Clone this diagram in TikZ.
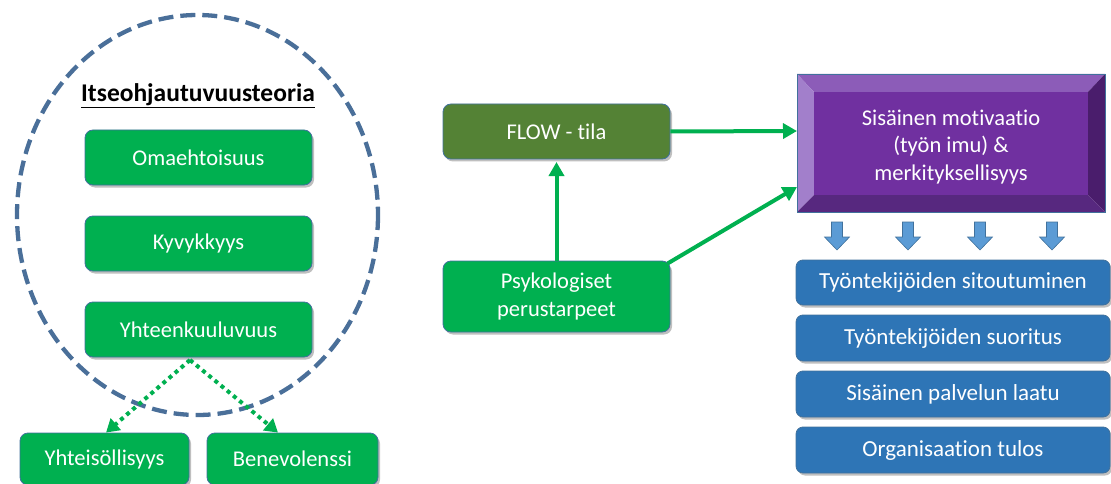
\documentclass[tikz,border=0pt]{standalone}
\usepackage{fontspec}
\setmainfont{Carlito}[Ligatures=NoCommon]
\usetikzlibrary{arrows.meta,shadows,calc}
\definecolor{gbox}{HTML}{00B050}
\definecolor{olive}{HTML}{548235}
\definecolor{bbox}{HTML}{2E75B6}
\definecolor{edge}{HTML}{41719C}
\definecolor{ring}{HTML}{4A6F99}
\definecolor{pface}{HTML}{7030A0}
\definecolor{ptop}{HTML}{8C5CB8}
\definecolor{pleft}{HTML}{A27FCB}
\definecolor{pright}{HTML}{4A1D6C}
\definecolor{pbottom}{HTML}{57287F}
\definecolor{barrow}{HTML}{5B9BD5}
\tikzset{
  card/.style={rectangle, rounded corners=8pt, draw=edge, line width=0.8pt,
    text=white, font=\fontsize{22.5}{27.5}\selectfont, align=center,
    drop shadow={shadow xshift=2pt, shadow yshift=-2.5pt, opacity=0.25, fill=black}},
  greencard/.style={card, fill=gbox},
  olivecard/.style={card, fill=olive},
  bluecard/.style={card, fill=bbox, rounded corners=7pt, font=\fontsize{23}{27.5}\selectfont},
  flowline/.style={draw=gbox, line width=4pt, -{Triangle[length=14pt,width=15pt]}},
  dotline/.style={draw=gbox, line width=4pt, dash pattern=on 4pt off 4pt,
    -{Triangle[length=13pt,width=15pt]}},
}
\newcommand{\downblock}[2]{% x, y of top of shaft
  \filldraw[fill=barrow, draw=edge, line width=0.6pt]
    (#1-5.5,#2) -- (#1+5.5,#2) -- (#1+5.5,#2+15) -- (#1+12.5,#2+15)
    -- (#1,#2+28) -- (#1-12.5,#2+15) -- (#1-5.5,#2+15) -- cycle;}
\begin{document}
\begin{tikzpicture}[x=1pt, y=-1pt]
\useasboundingbox (0,0) rectangle (1111,484);

% dashed ring around the theory
\draw[ring, line width=4.3pt, dash pattern=on 15pt off 7pt] (197.5,215) ellipse [x radius=180.5, y radius=200];

\node[font=\fontsize{25.5}{30}\selectfont\bfseries] (title) at (198,96) {\underline{Itseohjautuvuusteoria}};

\node[greencard, minimum width=227pt, minimum height=55pt] (oma) at (198.5,157.5) {Omaehtoisuus};
\node[greencard, minimum width=227pt, minimum height=55pt] (kyv) at (198.5,243.5) {Kyvykkyys};
\node[greencard, minimum width=227pt, minimum height=55pt] (yht) at (198.5,329.5) {Yhteenkuuluvuus};

\node[greencard, minimum width=169pt, minimum height=52pt] (yhteis) at (104.5,459) {Yhteisöllisyys};
\node[greencard, minimum width=171pt, minimum height=52pt] (bene) at (292.5,459) {Benevolenssi};

\coordinate (split) at (190,360);
\draw[dotline] (split) -- (yhteis.north -| 106,0);
\draw[dotline] (split) -- (bene.north -| 278,0);

% middle column
\node[olivecard, minimum width=227pt, minimum height=55pt] (flow) at (556.5,131.5) {FLOW - tila};
\node[greencard, minimum width=227pt, minimum height=71pt] (psy) at (556.5,296.5) {Psykologiset\\perustarpeet};

% bevelled motivation box
\fill[ptop] (797,74) -- (1105,74) -- (1088,92) -- (814,92) -- cycle;
\fill[pleft] (797,74) -- (814,92) -- (814,195) -- (797,212) -- cycle;
\fill[pright] (1105,74) -- (1105,212) -- (1088,195) -- (1088,92) -- cycle;
\fill[pbottom] (797,212) -- (1105,212) -- (1088,195) -- (814,195) -- cycle;
\fill[pface] (814,92) rectangle (1088,195);
\draw[edge, line width=0.8pt] (797,74) rectangle (1105,212);
\node[text=white, font=\fontsize{22.5}{27.5}\selectfont, align=center,
  minimum width=308pt, minimum height=138pt, inner sep=0pt] (motiv) at (951,147)
  {Sisäinen motivaatio\\(työn imu) \&\\merkityksellisyys};

\draw[flowline] (psy.north) -- (flow.south |- 0,162);
\draw[flowline] (flow.east) -- (797,131);
\draw[flowline] ($(psy.north east)+(-3,3)$) -- (797,187);

% outcome arrows
\downblock{837}{222}
\downblock{908}{222}
\downblock{980}{222}
\downblock{1052}{222}

\node[bluecard, minimum width=314pt, minimum height=45pt] (sit) at (953,282.5) {Työntekijöiden sitoutuminen};
\node[bluecard, minimum width=314pt, minimum height=46pt] (suo) at (953,338) {Työntekijöiden suoritus};
\node[bluecard, minimum width=314pt, minimum height=46pt] (laa) at (953,394) {Sisäinen palvelun laatu};
\node[bluecard, minimum width=314pt, minimum height=46pt] (tul) at (953,450) {Organisaation tulos};
\end{tikzpicture}
\end{document}
